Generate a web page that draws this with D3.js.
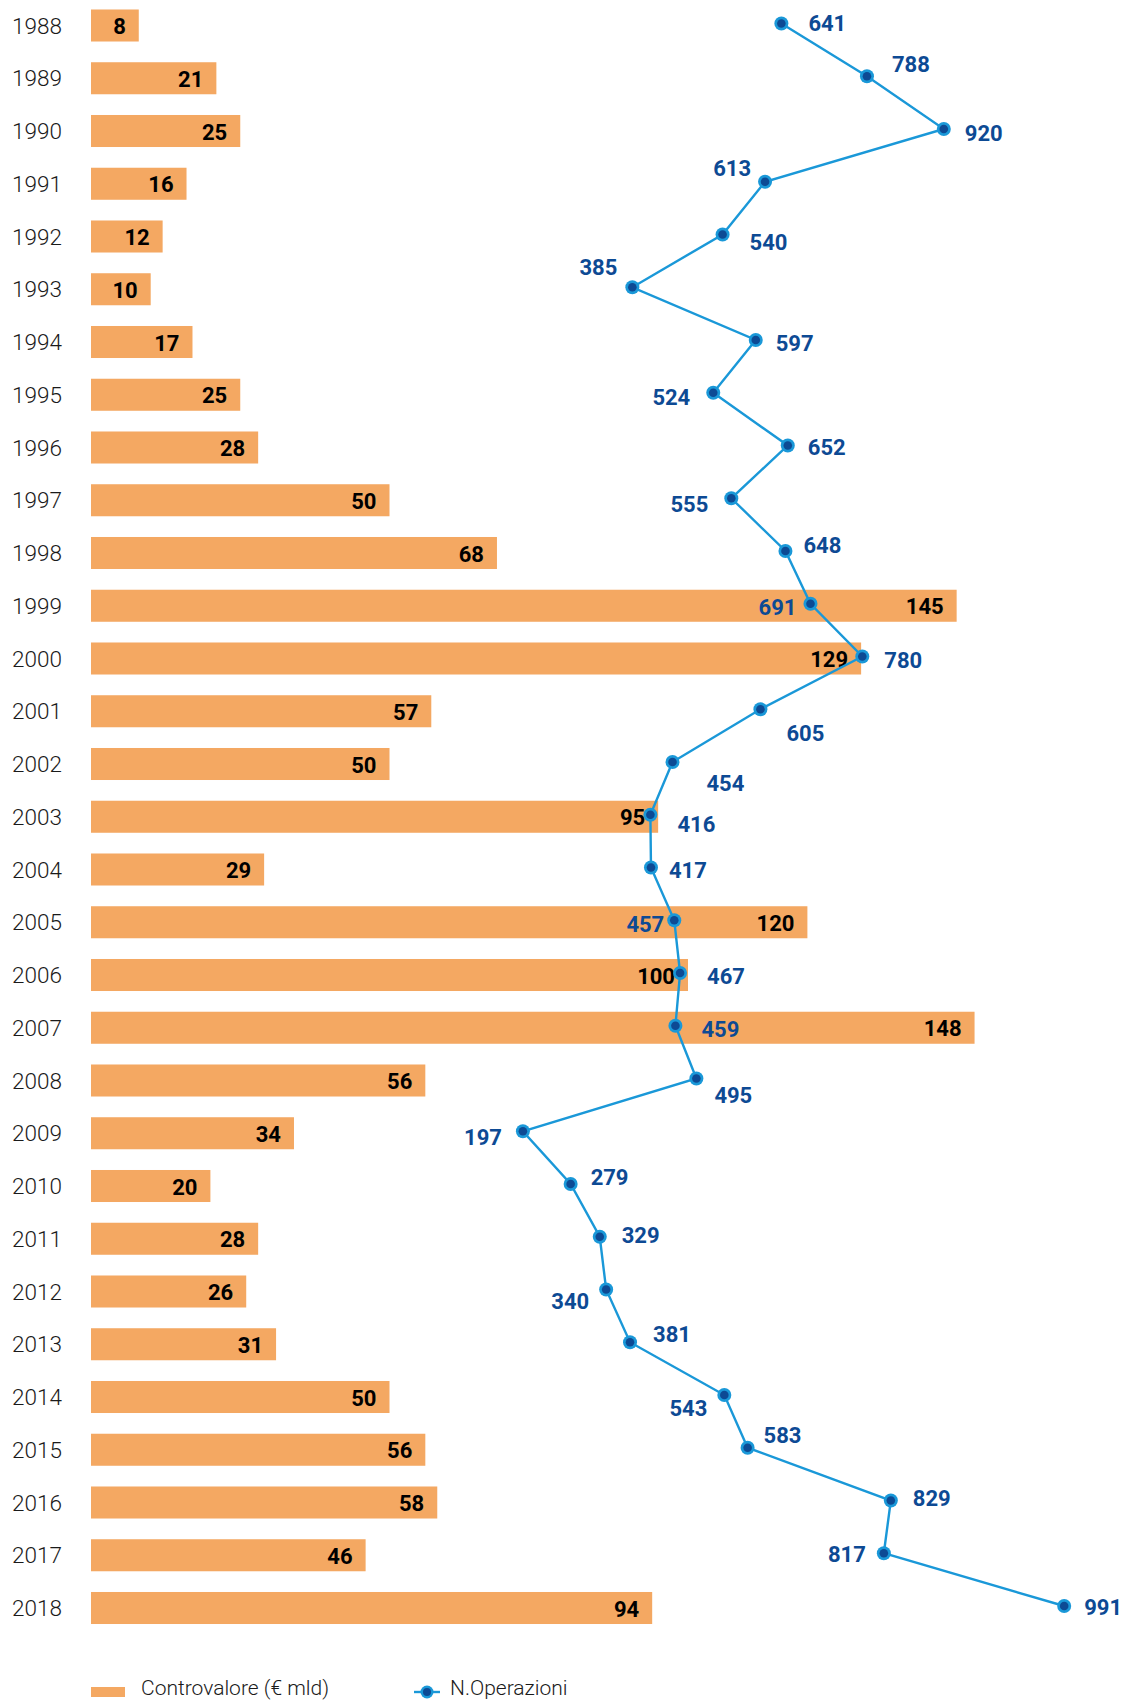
<!DOCTYPE html>
<html>
<head>
<meta charset="utf-8">
<script src="https://cdn.jsdelivr.net/npm/d3@7"></script>
<style>
  html, body { margin: 0; padding: 0; background: #ffffff; }
  svg { display: block; }
</style>
</head>
<body>
<div id="chart"></div>
<script>
// ---- data ----
const years = ["1988","1989","1990","1991","1992","1993","1994","1995","1996","1997","1998","1999","2000","2001","2002","2003","2004","2005","2006","2007","2008","2009","2010","2011","2012","2013","2014","2015","2016","2017","2018"];
const controvalore = [8,21,25,16,12,10,17,25,28,50,68,145,129,57,50,95,29,120,100,148,56,34,20,28,26,31,50,56,58,46,94];
const operazioni = [641,788,920,613,540,385,597,524,652,555,648,691,780,605,454,416,417,457,467,459,495,197,279,329,340,381,543,583,829,817,991];
const legendLabels = ["Controvalore (€ mld)", "N.Operazioni"];

// ---- label placement for the line annotations (signed horizontal offset, vertical nudge) ----
const opLabelDx = [27,25,21,-14,27,-15,20,-23,20,-23,18,-14,22,26,34,27,18,-10,27,26,18,-21,20,22,-17,23,-17,16,22,-18,20];
const opLabelDy = [-1,-13,3,-14,7,-21,2,4,1,5,-7,3,3,23,20,9,2,3,2,3,16,5,-8,-2,11,-9,12,-13,-3,0,0];

const W = 1126, H = 1701;
const svg = d3.select("#chart").append("svg").attr("width", W).attr("height", H);

const step = 52.75;
const y = d3.scaleBand()
  .domain(years)
  .range([25.5 - step / 2, 25.5 + step * (years.length - 1) + step / 2])
  .paddingInner(0.393)
  .paddingOuter(0.1965);

const xBar = d3.scaleLinear().domain([0, 148]).range([91, 91 + 148 * 5.97]);
const xLine = d3.scaleLinear().domain([197, 920, 991]).range([522.9, 943.8, 1064.2]);

const orange = "#f4a862";
const lineBlue = "#1a98d8";
const darkBlue = "#0d4a94";
const font = "Roboto, 'Liberation Sans', sans-serif";

// year labels
svg.append("g").selectAll("text").data(years).join("text")
  .attr("x", 12)
  .attr("y", d => y(d) + y.bandwidth() / 2)
  .attr("dominant-baseline", "central")
  .attr("font-family", font)
  .attr("font-weight", 300)
  .attr("font-size", 22.5)
  .attr("fill", "#1a1a1a")
  .text(d => d);

// bars
svg.append("g").selectAll("rect").data(years).join("rect")
  .attr("x", xBar(0))
  .attr("y", d => y(d))
  .attr("width", (d, i) => xBar(controvalore[i]) - xBar(0))
  .attr("height", y.bandwidth())
  .attr("fill", orange);

// bar value labels
svg.append("g").selectAll("text").data(years).join("text")
  .attr("x", (d, i) => xBar(controvalore[i]) - 13)
  .attr("y", d => y(d) + y.bandwidth() / 2 + 1)
  .attr("dominant-baseline", "central")
  .attr("text-anchor", "end")
  .attr("font-family", font)
  .attr("font-weight", 700)
  .attr("font-size", 22)
  .attr("fill", "#000")
  .text((d, i) => controvalore[i]);

// line
const py = d => y(d) + y.bandwidth() / 2 - 2;
const line = d3.line()
  .x((d, i) => xLine(operazioni[i]))
  .y(d => py(d));
svg.append("path")
  .datum(years)
  .attr("d", line)
  .attr("fill", "none")
  .attr("stroke", lineBlue)
  .attr("stroke-width", 2.4);

// markers
const mk = svg.append("g").selectAll("g").data(years).join("g")
  .attr("transform", (d, i) => `translate(${xLine(operazioni[i])},${py(d)})`);
mk.append("circle").attr("r", 7).attr("fill", lineBlue);
mk.append("circle").attr("r", 4.3).attr("fill", darkBlue);

// line value labels
svg.append("g").selectAll("text").data(years).join("text")
  .attr("x", (d, i) => xLine(operazioni[i]) + opLabelDx[i])
  .attr("y", (d, i) => py(d) + opLabelDy[i] + 1)
  .attr("dominant-baseline", "central")
  .attr("text-anchor", (d, i) => opLabelDx[i] < 0 ? "end" : "start")
  .attr("font-family", font)
  .attr("font-weight", 700)
  .attr("font-size", 22)
  .attr("fill", darkBlue)
  .text((d, i) => operazioni[i]);

// legend
const lg = svg.append("g");
lg.append("rect").attr("x", 91).attr("y", 1687).attr("width", 34).attr("height", 10).attr("fill", orange);
lg.append("text").attr("x", 141).attr("y", 1695)
  .attr("font-family", font).attr("font-weight", 300)
  .attr("font-size", 21).attr("fill", "#1a1a1a").text(legendLabels[0]);
lg.append("line").attr("x1", 414).attr("x2", 440).attr("y1", 1692).attr("y2", 1692)
  .attr("stroke", lineBlue).attr("stroke-width", 2.4);
lg.append("circle").attr("cx", 427).attr("cy", 1692).attr("r", 6.5).attr("fill", lineBlue);
lg.append("circle").attr("cx", 427).attr("cy", 1692).attr("r", 4).attr("fill", darkBlue);
lg.append("text").attr("x", 450).attr("y", 1695)
  .attr("font-family", font).attr("font-weight", 300)
  .attr("font-size", 21).attr("fill", "#1a1a1a").text(legendLabels[1]);
</script>
</body>
</html>
